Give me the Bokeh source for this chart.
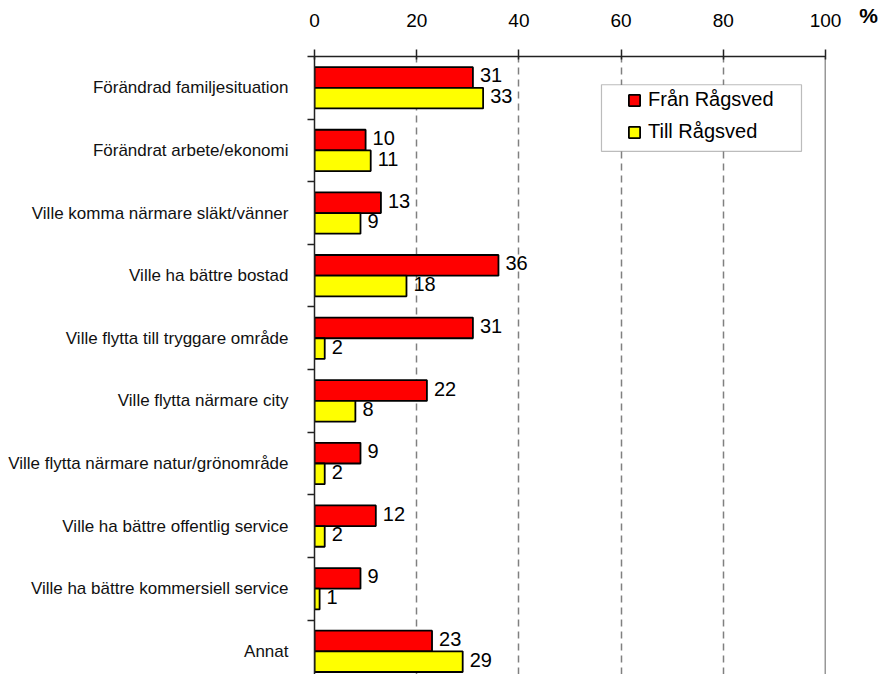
from bokeh.plotting import figure
from bokeh.layouts import row
from bokeh.models import (Range1d, FixedTicker, Span, Legend, LegendItem,
                          BoxAnnotation, ColumnDataSource)
from bokeh.core.properties import value
from bokeh.embed import file_html
from bokeh.resources import INLINE

categories = [
    "Förändrad familjesituation",
    "Förändrat arbete/ekonomi",
    "Ville komma närmare släkt/vänner",
    "Ville ha bättre bostad",
    "Ville flytta till tryggare område",
    "Ville flytta närmare city",
    "Ville flytta närmare natur/grönområde",
    "Ville ha bättre offentlig service",
    "Ville ha bättre kommersiell service",
    "Annat",
]
fran_ragsved = [31, 10, 13, 36, 31, 22, 9, 12, 9, 23]
till_ragsved = [33, 11, 9, 18, 2, 8, 2, 2, 1, 29]
x_ticks = [0, 20, 40, 60, 80, 100]
series_names = ["Från Rågsved", "Till Rågsved"]
unit_label = "%"

FONT = "Liberation Sans"
n = len(categories)
centers = [n - 0.5 - i for i in range(n)]
bar_h = 0.33
off = 0.165
H = 674

src = ColumnDataSource(dict(
    cat=categories,
    y_fran=[c + off for c in centers],
    y_till=[c - off for c in centers],
    fran=fran_ragsved,
    till=till_ragsved,
    fran_txt=[str(v) for v in fran_ragsved],
    till_txt=[str(v) for v in till_ragsved],
))

p = figure(width=856, height=H, output_backend="svg", toolbar_location=None,
           x_axis_location="above",
           x_range=Range1d(0, 100), y_range=Range1d(0.13, n),
           min_border_left=314, min_border_top=55, min_border_right=31,
           min_border_bottom=0)
p.outline_line_color = None
p.background_fill_color = "white"
p.border_fill_color = "white"

# grid
p.ygrid.visible = False
p.xgrid.ticker = FixedTicker(ticks=[t for t in x_ticks if 0 < t < 100])
p.xgrid.grid_line_color = "#808080"
p.xgrid.grid_line_dash = "7 5"
p.xgrid.grid_line_width = 1.5
p.add_layout(Span(location=100, dimension="height", line_color="#333333", line_width=1.5))

# bars
r_fran = p.hbar(y="y_fran", right="fran", left=0, height=bar_h, source=src,
                fill_color="#FF0000", line_color="black", line_width=1.8)
r_till = p.hbar(y="y_till", right="till", left=0, height=bar_h, source=src,
                fill_color="#FFFF00", line_color="black", line_width=1.8)

# value labels
for ycol, xcol, tcol in [("y_fran", "fran", "fran_txt"), ("y_till", "till", "till_txt")]:
    p.text(x=xcol, y=ycol, text=tcol, source=src, x_offset=7, y_offset=-2,
           text_font=value(FONT), text_font_size="20px", text_color="black",
           text_align="left", text_baseline="middle")

# top axis
xa = p.xaxis[0]
xa.ticker = FixedTicker(ticks=x_ticks)
xa.major_label_text_font = FONT
xa.major_label_text_font_size = "19px"
xa.major_label_text_color = "black"
xa.axis_line_color = "#222222"
xa.axis_line_width = 1.5
xa.major_tick_line_color = "#222222"
xa.major_tick_line_width = 1.5
xa.major_tick_out = 7
xa.major_tick_in = 3
xa.minor_tick_line_color = None
xa.major_label_standoff = 23

# left axis
ya = p.yaxis[0]
ya.ticker = FixedTicker(ticks=centers, minor_ticks=list(range(0, n + 1)))
ya.major_label_overrides = {c: cat for c, cat in zip(centers, categories)}
ya.major_label_text_font = FONT
ya.major_label_text_font_size = "17px"
ya.major_label_text_color = "#111111"
ya.axis_line_color = "#222222"
ya.axis_line_width = 1.5
ya.major_tick_out = 0
ya.major_tick_in = 0
ya.major_tick_line_color = None
ya.minor_tick_out = 7
ya.minor_tick_in = 0
ya.minor_tick_line_color = "#222222"
ya.minor_tick_line_width = 1.5
ya.major_label_standoff = 19

# legend frame
p.add_layout(BoxAnnotation(left=56.16, right=95.3, top=9.549, bottom=8.485,
                           fill_color="white", fill_alpha=1.0,
                           line_color="#222222", line_width=1.2))
legend = Legend(items=[LegendItem(label=series_names[0], renderers=[r_fran]),
                       LegendItem(label=series_names[1], renderers=[r_till])],
                location=(313, 531), orientation="vertical",
                label_text_font=FONT, label_text_font_size="20px",
                label_text_color="black", label_standoff=7,
                glyph_width=14, glyph_height=14, label_height=20, spacing=9,
                padding=6, background_fill_alpha=0, border_line_color=None)
p.add_layout(legend)

# narrow companion figure: its top axis carries the unit sign as its only label
p2 = figure(width=24, height=H, output_backend="svg", toolbar_location=None,
            x_axis_location="above", y_axis_location=None,
            x_range=Range1d(0, 1), y_range=Range1d(0, 1),
            min_border_top=55, min_border_left=0, min_border_right=0,
            min_border_bottom=0)
p2.outline_line_color = None
p2.grid.visible = False
p2.border_fill_color = "white"
ua = p2.xaxis[0]
ua.ticker = FixedTicker(ticks=[0.5])
ua.major_label_overrides = {0.5: unit_label}
ua.major_label_text_font = FONT
ua.major_label_text_font_size = "21px"
ua.major_label_text_font_style = "bold"
ua.major_label_text_color = "black"
ua.axis_line_color = None
ua.major_tick_line_color = None
ua.minor_tick_line_color = None
ua.major_tick_out = 7
ua.major_tick_in = 0
ua.major_label_standoff = 23

layout = row(p, p2, spacing=0)
open("out.html", "w").write(file_html(layout, INLINE))
